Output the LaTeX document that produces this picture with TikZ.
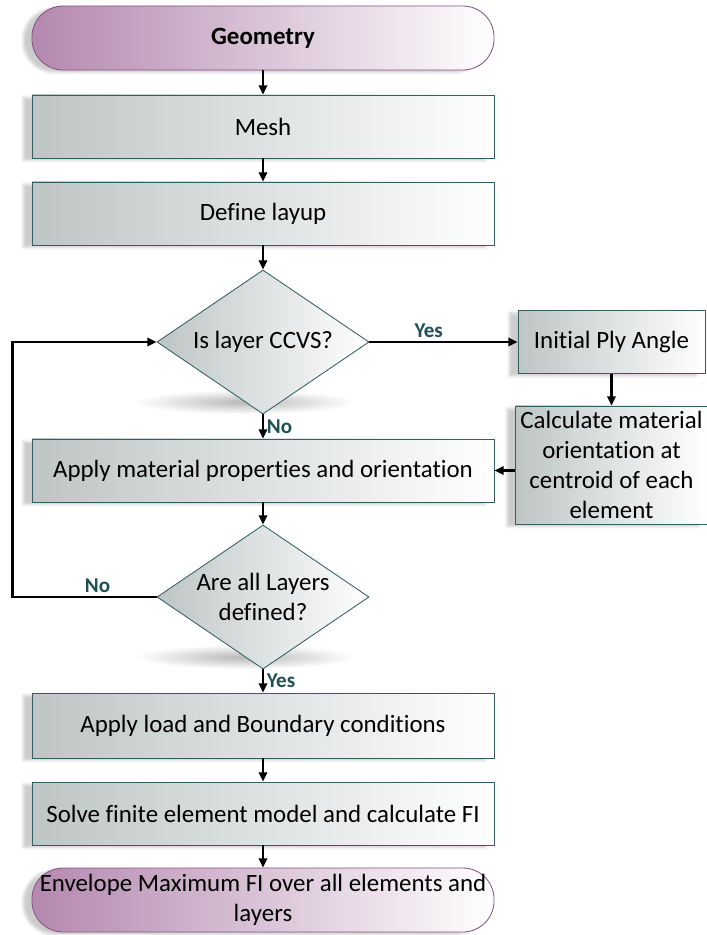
\documentclass[tikz,border=0pt]{standalone}
\usepackage{fontspec}
\setmainfont{Carlito}[Ligatures=NoCommon]
\usepackage{tikz}
\usetikzlibrary{shapes.geometric,arrows.meta,shadows.blur}
\definecolor{boxgray}{RGB}{190,197,197}
\definecolor{boxline}{RGB}{52,94,98}
\definecolor{termpurple}{RGB}{180,136,175}
\definecolor{termline}{RGB}{138,82,132}
\definecolor{labelteal}{RGB}{32,80,84}
\tikzset{
	stepbox/.style={draw=boxline, line width=0.6pt, left color=boxgray, right color=white, minimum width=11.55cm, minimum height=1.575cm, align=center, font=\fontsize{17.7}{21.5}\selectfont, blur shadow={shadow xshift=-0.22cm, shadow yshift=-0.06cm, shadow opacity=20}},
	sidebox/.style={stepbox, minimum width=4.675cm},
	termbox/.style={stepbox, draw=termline, left color=termpurple, rounded corners=0.78cm, minimum height=1.6cm},
	decision/.style={diamond, draw=boxline, line width=0.6pt, left color=boxgray, right color=white, aspect=1.47, minimum width=5.3cm, minimum height=3.6cm, inner xsep=-0.4cm, inner ysep=-0.1cm, align=center, font=\fontsize{17.7}{21.5}\selectfont},
	arr/.style={-{Triangle[length=2.3mm,width=2.1mm]}, line width=1.5pt},
	lbl/.style={font=\fontsize{15}{17}\selectfont\bfseries, text=labelteal, inner sep=2pt}
}
\begin{document}
\begin{tikzpicture}[x=0.025cm, y=-0.025cm]
							\useasboundingbox (0,0) rectangle (706,935);
							\shade[inner color=black!28, outer color=white] (245,402) ellipse [x radius=2.75cm, y radius=0.3cm];
							\shade[inner color=black!28, outer color=white] (245,657) ellipse [x radius=2.75cm, y radius=0.3cm];
							
							\node[termbox] (geo) at (263,38) {\bfseries Geometry};
							\node[stepbox] (mesh) at (263,126.5) {Mesh};
							\node[stepbox] (layup) at (263,213.5) {Define layup};
							\node[decision] (ccvs) at (263,342) {Is layer CCVS?};
							\node[sidebox] (ply) at (611.5,342) {Initial Ply Angle};
							\node[sidebox, minimum height=2.95cm, inner ysep=0pt] (calc) at (611.5,465) {Calculate material\\orientation at\\centroid of each\\element};
							\node[stepbox] (mat) at (263,470.5) {Apply material properties and orientation};
							\node[decision] (all) at (263,597) {Are all Layers\\defined?};
							\node[stepbox, minimum height=1.625cm] (load) at (263,725.5) {Apply load and Boundary conditions};
							\node[stepbox] (solve) at (263,813.5) {Solve finite element model and calculate FI};
							\node[termbox] (env) at (263,900) {Envelope Maximum FI over all elements and\\layers};
							
							\draw[arr] (geo) -- (mesh);
							\draw[arr] (mesh) -- (layup);
							\draw[arr] (layup) -- (ccvs);
							\draw[arr] (ccvs) -- node[lbl, above, pos=0.4] {Yes} (ply);
							\draw[arr] (ply) -- (calc);
							\draw[arr] (calc.west |- mat) -- (mat);
							\draw[arr] (ccvs) -- node[lbl, right] {No} (mat);
							\draw[arr] (mat) -- (all);
							\draw[arr] (all.west) -- node[lbl, above, pos=0.41] {No} ++(-144,0) |- (ccvs.west);
							\draw[arr] (all) -- node[lbl, right] {Yes} (load);
							\draw[arr] (load) -- (solve);
							\draw[arr] (solve) -- (env);
						\end{tikzpicture}
\end{document}
